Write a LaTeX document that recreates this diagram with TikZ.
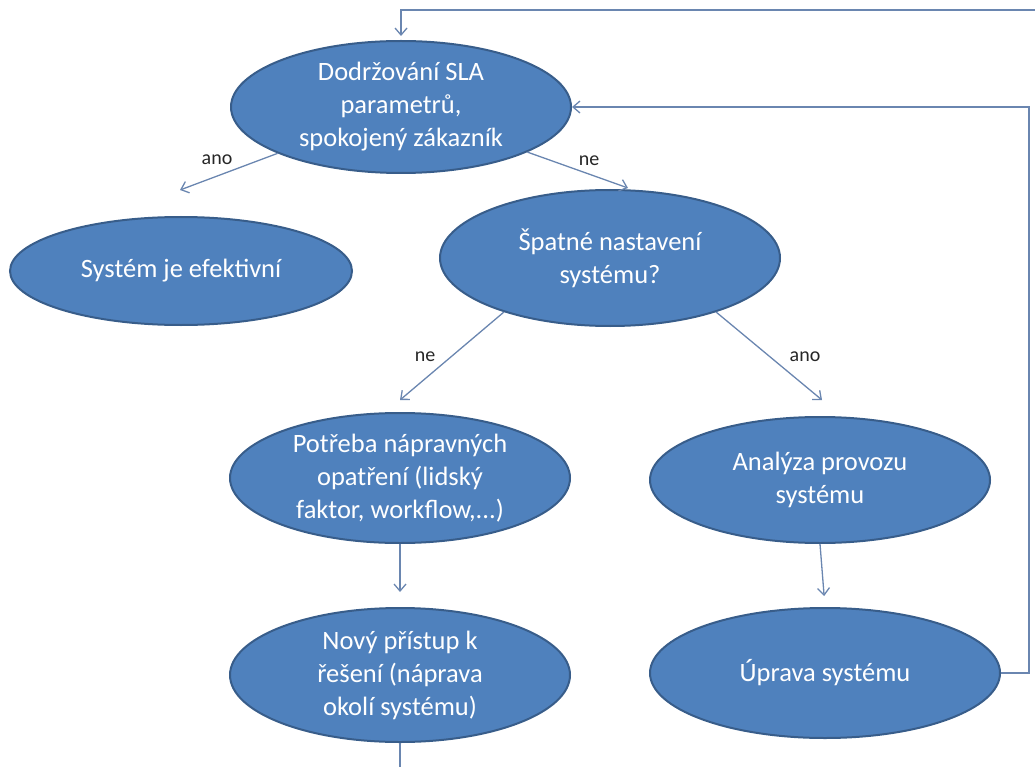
\documentclass[tikz,border=0pt]{standalone}
\usepackage{fontspec}
\setmainfont{Carlito}
\usetikzlibrary{shapes.geometric,arrows.meta}
\definecolor{ovalfill}{HTML}{4F81BD}
\definecolor{ovaledge}{HTML}{385D8A}
\definecolor{linkcol}{HTML}{6A86B0}
\definecolor{labcol}{HTML}{262626}
\begin{document}
\begin{tikzpicture}[x=1pt,y=-1pt,
  oval/.style={ellipse,fill=ovalfill,draw=ovaledge,line width=2pt,inner sep=0pt,
    text=white,align=center,font=\fontsize{26.5}{33}\selectfont},
  conn/.style={draw=linkcol,line width=1.3pt,
    -{Straight Barb[length=7pt,width=12pt,line width=1.3pt]}},
  plain/.style={draw=linkcol,line width=1.3pt},
  lab/.style={text=labcol,font=\fontsize{20}{23}\selectfont,inner sep=0pt}]
\useasboundingbox (0,0) rectangle (1035,767);

% decision tree nodes
\node[oval,minimum width=340pt,minimum height=132pt] (top) at (401,107)
  {Dodržování SLA\\parametrů,\\spokojený zákazník};
\node[oval,minimum width=342pt,minimum height=108pt] (eff) at (181,271)
  {Systém je efektivní};
\node[oval,minimum width=340pt,minimum height=136pt] (spat) at (610,258)
  {Špatné nastavení\\systému?};
\node[oval,minimum width=340pt,minimum height=130pt] (potr) at (400,478)
  {Potřeba nápravných\\opatření (lidský\\faktor, workflow,...)};
\node[oval,minimum width=340pt,minimum height=126pt] (anal) at (820,480)
  {Analýza provozu\\systému};
\node[oval,minimum width=340pt,minimum height=134pt] (novy) at (400,675)
  {Nový přístup k\\řešení (náprava\\okolí systému)};
\node[oval,minimum width=350pt,minimum height=130pt] (uprava) at (825,673)
  {Úprava systému};

% arrow tips and free line ends
\coordinate (tipA) at (180,190);
\coordinate (tipB) at (628,188);
\coordinate (tipC) at (400,400);
\coordinate (tipD) at (822,400);
\coordinate (loopR) at (1029,107);
\coordinate (feedIn) at (1035,10);
\coordinate (feedOut) at (400,767);

% branches
\draw[conn] (top) -- (tipA);
\draw[conn] (top) -- (tipB);
\draw[conn] (spat.207) -- (tipC);
\draw[conn] (spat.333) -- (tipD);
\draw[conn,shorten >=15pt] (potr.south) -- (novy.north);
\draw[conn,shorten >=11pt] (anal.south) -- (uprava.north);

% feedback loops
\draw[conn] (uprava.east) -| (loopR) -- (top.east);
\draw[conn,shorten >=4pt] (feedIn) -| (top.north);
\draw[plain] (novy.south) -- (feedOut);

% branch labels
\node[lab] (lA) at (217,160) {ano};
\node[lab] (lB) at (589,161) {ne};
\node[lab] (lC) at (425,357) {ne};
\node[lab] (lD) at (805,357) {ano};
\end{tikzpicture}
\end{document}
